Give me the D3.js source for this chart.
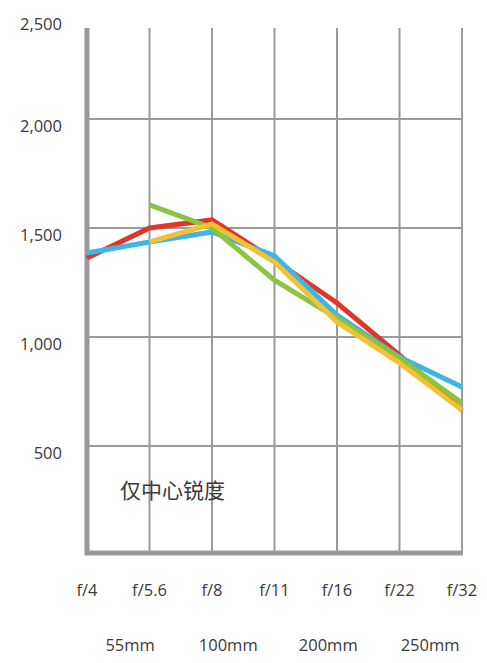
<!DOCTYPE html>
<html><head><meta charset="utf-8">
<script src="https://cdn.jsdelivr.net/npm/d3@7"></script>
<style>body{margin:0;background:#fff}text{font-family:"Open Sans","Noto Sans CJK SC",sans-serif;fill:#3a3a3a}</style>
</head><body><svg width="487" height="663"></svg>
<script>
const apertures=["f/4","f/5.6","f/8","f/11","f/16","f/22","f/32"];
const yTicks=[500,1000,1500,2000,2500];
const focal=["55mm","100mm","200mm","250mm"];
const focalPos=[0.69,2.26,3.86,5.49];
const red=[1362,1500,1537,1353,1156,917,665];
const blue=[1385,1436,1482,1372,1101,908,771];
const green=[null,1606,1500,1261,1087,904,697];
const yellow=[null,1436,1518,1344,1069,881,665];
const series=[{v:red,c:"#e0352a"},{v:blue,c:"#3cb5e8"},{v:green,c:"#8cc43f"},{v:yellow,c:"#f2c233"}];
const svg=d3.select("svg");
const x=d3.scaleLinear().domain([0,6]).range([87,462]);
const y=d3.scaleLinear().domain([0,2500]).range([555,10]);
const g=svg.append("g");
g.selectAll(".v").data(d3.range(1,7)).join("line").attr("x1",x).attr("x2",x).attr("y1",28).attr("y2",553).attr("stroke","#9a9a9a").attr("stroke-width",2);
g.selectAll(".h").data(yTicks.filter(t=>t<2500)).join("line").attr("x1",87).attr("x2",462).attr("y1",y).attr("y2",y).attr("stroke","#9a9a9a").attr("stroke-width",2);
g.append("line").attr("x1",87).attr("x2",87).attr("y1",28).attr("y2",555).attr("stroke","#9a9a9a").attr("stroke-width",5);
g.append("line").attr("x1",85).attr("x2",463).attr("y1",553).attr("y2",553).attr("stroke","#9a9a9a").attr("stroke-width",5);
svg.selectAll(".yl").data(yTicks).join("text").attr("x",62).attr("y",d=>d===2500?30:y(d)+13).attr("text-anchor","end").attr("font-size",16.5).text(d3.format(","));
svg.selectAll(".xl").data(apertures).join("text").attr("x",(d,i)=>x(i)).attr("y",596).attr("text-anchor","middle").attr("font-size",16.5).text(d=>d);
svg.selectAll(".fl").data(focal).join("text").attr("x",(d,i)=>x(focalPos[i])).attr("y",651).attr("text-anchor","middle").attr("font-size",16.5).text(d=>d);
const line=d3.line().defined(d=>d!=null).x((d,i)=>x(i)).y(d=>y(d));
series.forEach(s=>svg.append("path").attr("d",line(s.v)).attr("fill","none").attr("stroke",s.c).attr("stroke-width",5));
svg.append("text").attr("x",120).attr("y",498).attr("font-size",21).text("仅中心锐度");
</script></body></html>
